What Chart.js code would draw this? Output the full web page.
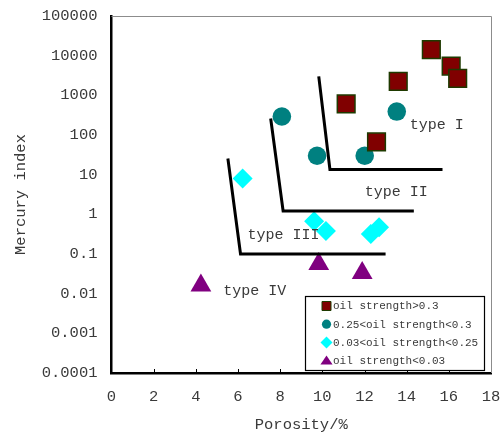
<!DOCTYPE html>
<html>
<head>
<meta charset="utf-8">
<script src="https://cdn.jsdelivr.net/npm/chart.js@4/dist/chart.umd.min.js"></script>
<style>
  html, body { margin: 0; padding: 0; background: #fff; }
  #c { display: block; }
</style>
</head>
<body>
<canvas id="c" width="501" height="436" style="width:501px;height:436px"></canvas>
<script>
// ---- data ----
const squaresX = [15.17, 16.11, 16.42, 13.60, 11.13, 12.57];
const squaresY = [14250, 5470, 2665, 2260, 610, 67];

const circlesX = [8.08, 13.53, 9.75, 12.01];
const circlesY = [292, 390, 30, 30];

const diamondsX = [6.22, 9.61, 10.17, 12.69, 12.30];
const diamondsY = [8, 0.67, 0.38, 0.47, 0.32];

const trianglesX = [4.24, 9.83, 11.89];
const trianglesY = [0.016, 0.056, 0.033];

const typeIX = [9.83, 10.36, 15.7];
const typeIY = [3000, 13.5, 13.5];
const typeIIX = [7.55, 8.14, 14.34];
const typeIIY = [260, 1.22, 1.22];
const typeIIIX = [5.52, 6.12, 13.0];
const typeIIIY = [25.6, 0.1, 0.1];

const typeLabels = ['type I', 'type II', 'type III', 'type IV'];
const typeLabelX = [14.15, 12.01, 6.45, 5.3];
const typeLabelY = [177, 3.7, 0.3, 0.0116];

const seriesNames = ['oil strength>0.3', '0.25<oil strength<0.3', '0.03<oil strength<0.25', 'oil strength<0.03'];

const xTicks = [0, 2, 4, 6, 8, 10, 12, 14, 16, 18];
const yTicks = [0.0001, 0.001, 0.01, 0.1, 1, 10, 100, 1000, 10000, 100000];
const yTickLabels = ['0.0001', '0.001', '0.01', '0.1', '1', '10', '100', '1000', '10000', '100000'];

const xTitle = 'Porosity/%';
const yTitle = 'Mercury index';

// ---- helpers ----
const zip = (xs, ys) => xs.map((x, i) => ({ x: x, y: ys[i] }));
const FONT = '"Liberation Mono", "DejaVu Sans Mono", monospace';
const TXT = '#3a3a3a';

const boundary = (xs, ys) => ({
  label: '', isBoundary: true, data: zip(xs, ys), showLine: true,
  borderColor: '#000', borderWidth: 3, pointRadius: 0, fill: false, tension: 0
});

const datasets = [
  boundary(typeIX, typeIY),
  boundary(typeIIX, typeIIY),
  boundary(typeIIIX, typeIIIY),
  { label: seriesNames[0], data: zip(squaresX, squaresY), pointStyle: 'rect', pointRadius: 12.5,
    backgroundColor: '#800000', borderColor: '#1e3a00', borderWidth: 1.5, legendSize: 4.5 },
  { label: seriesNames[1], data: zip(circlesX, circlesY), pointStyle: 'circle', pointRadius: 9.3,
    backgroundColor: '#008080', borderColor: '#008080', borderWidth: 0, legendSize: 4.6 },
  { label: seriesNames[2], data: zip(diamondsX, diamondsY), pointStyle: 'rectRot', pointRadius: 10,
    backgroundColor: '#00ffff', borderColor: '#00ffff', borderWidth: 0, legendSize: 6 },
  { label: seriesNames[3], data: zip(trianglesX, trianglesY), pointStyle: 'triangle', pointRadius: 12,
    backgroundColor: '#800080', borderColor: '#800080', borderWidth: 0, legendSize: 7 }
];

function drawMarker(ctx, style, x, y, r, fill, stroke, bw) {
  ctx.save();
  ctx.fillStyle = fill; ctx.strokeStyle = stroke; ctx.lineWidth = bw;
  ctx.beginPath();
  if (style === 'rect') {
    ctx.rect(x - r, y - r, 2 * r, 2 * r);
  } else if (style === 'circle') {
    ctx.arc(x, y, r, 0, Math.PI * 2);
  } else if (style === 'rectRot') {
    ctx.moveTo(x, y - r); ctx.lineTo(x + r, y); ctx.lineTo(x, y + r); ctx.lineTo(x - r, y); ctx.closePath();
  } else if (style === 'triangle') {
    const h = r * Math.sqrt(3) / 2;
    ctx.moveTo(x, y - r * 0.6 - 1); ctx.lineTo(x + h, y + r * 0.55); ctx.lineTo(x - h, y + r * 0.55); ctx.closePath();
  }
  ctx.fill();
  if (bw > 0) ctx.stroke();
  ctx.restore();
}

const decorPlugin = {
  id: 'decor',
  afterDatasetsDraw(chart) {
    const { ctx, chartArea: a, scales: { x, y } } = chart;
    ctx.save();
    // top & right frame (grey)
    ctx.strokeStyle = '#8c8c8c'; ctx.lineWidth = 1;
    ctx.beginPath();
    ctx.moveTo(a.left, a.top + 0.5); ctx.lineTo(a.right + 0.5, a.top + 0.5); ctx.lineTo(a.right + 0.5, a.bottom);
    ctx.stroke();
    // inward x tick marks
    ctx.strokeStyle = '#000'; ctx.lineWidth = 1;
    xTicks.forEach(v => {
      if (v === 0 || v === 18) return;
      const px = Math.round(x.getPixelForValue(v)) + 0.5;
      ctx.beginPath(); ctx.moveTo(px, a.bottom); ctx.lineTo(px, a.bottom - 4); ctx.stroke();
    });
    // type labels
    ctx.fillStyle = TXT; ctx.font = '15px ' + FONT;
    ctx.textAlign = 'left'; ctx.textBaseline = 'middle';
    typeLabels.forEach((t, i) => {
      ctx.fillText(t, x.getPixelForValue(typeLabelX[i]), y.getPixelForValue(typeLabelY[i]));
    });
    // legend box
    const items = chart.data.datasets.filter(d => !d.isBoundary);
    const w = 179, h = 74;
    const lx = a.right - 7 - w, ly = a.bottom - 3 - h;
    ctx.fillStyle = '#fff';
    ctx.fillRect(lx, ly, w, h);
    ctx.strokeStyle = '#000'; ctx.lineWidth = 1.2;
    ctx.strokeRect(lx + 0.5, ly + 0.5, w, h);
    ctx.font = '11px ' + FONT;
    items.forEach((d, i) => {
      const ry = ly + 10 + i * 18.2;
      drawMarker(ctx, d.pointStyle, lx + 21.5, ry, d.legendSize, d.backgroundColor, d.borderColor, d.borderWidth ? 1 : 0);
      ctx.fillStyle = TXT; ctx.textAlign = 'left'; ctx.textBaseline = 'middle';
      ctx.fillText(d.label, lx + 28, ry + 0.5);
    });
    ctx.restore();
  }
};

new Chart(document.getElementById('c'), {
  type: 'scatter',
  data: { datasets: datasets },
  options: {
    responsive: false,
    animation: false,
    events: [],
    clip: false,
    layout: { autoPadding: false, padding: { left: 0, right: 10, top: 16, bottom: 0 } },
    plugins: { legend: { display: false }, tooltip: { enabled: false } },
    scales: {
      x: {
        type: 'linear', min: 0, max: 18,
        afterBuildTicks: s => { s.ticks = xTicks.map(v => ({ value: v })); },
        ticks: { font: { family: FONT, size: 15.5 }, color: TXT, padding: 15, maxRotation: 0, autoSkip: false },
        grid: { display: false, drawTicks: false },
        border: { display: true, color: '#000', width: 2.5 },
        title: { display: true, text: xTitle, font: { family: FONT, size: 15.5 }, color: TXT, padding: { top: 0, bottom: 2 } },
        afterFit: s => { s.height = 63; s.paddingLeft = 0; s.paddingRight = 0; }
      },
      y: {
        type: 'logarithmic', min: 0.0001, max: 100000,
        afterBuildTicks: s => { s.ticks = yTicks.map(v => ({ value: v })); },
        ticks: {
          font: { family: FONT, size: 15.5 }, color: TXT, padding: 14, autoSkip: false,
          callback: function (v) { const i = yTicks.indexOf(v); return i >= 0 ? yTickLabels[i] : ''; }
        },
        grid: { display: false, drawTicks: false },
        border: { display: true, color: '#000', width: 2.5 },
        title: { display: true, text: yTitle, font: { family: FONT, size: 15.5 }, color: TXT, padding: { top: 12, bottom: 0 } },
        afterFit: s => { s.width = 111.5; s.paddingTop = 0; s.paddingBottom = 0; }
      }
    }
  },
  plugins: [decorPlugin]
});
</script>
</body>
</html>
